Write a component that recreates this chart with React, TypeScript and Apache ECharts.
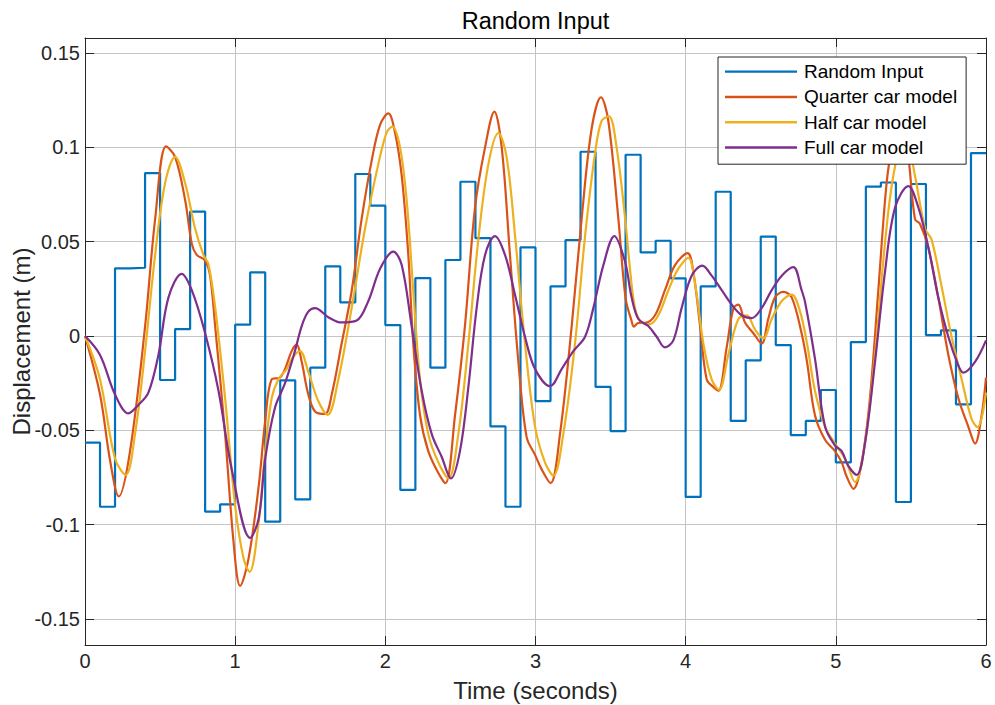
import React, { useEffect, useRef } from 'react';
import * as echarts from 'echarts';

const FONT = '"Liberation Sans", Arial, Helvetica, sans-serif';

const titleText = 'Random Input';
const xAxisName = 'Time (seconds)';
const yAxisName = 'Displacement (m)';
const seriesNames = ['Random Input', 'Quarter car model', 'Half car model', 'Full car model'];
const seriesColors = ['#0072BD', '#D95319', '#EDB120', '#7E2F8E'];

const yTicks = [-0.15, -0.1, -0.05, 0, 0.05, 0.1, 0.15];
const yTickLabels = ['-0.15', '-0.1', '-0.05', '0', '0.05', '0.1', '0.15'];
const yMin = -0.1638;
const yMax = 0.158;

// Random input: zero-order hold, one value every 0.1 s (last value repeated at t = 6)
const inputTimes = [
  0, 0.1, 0.2, 0.3, 0.4, 0.5, 0.6, 0.7, 0.8, 0.9,
  1.0, 1.1, 1.2, 1.3, 1.4, 1.5, 1.6, 1.7, 1.8, 1.9,
  2.0, 2.1, 2.2, 2.3, 2.4, 2.5, 2.6, 2.7, 2.8, 2.9,
  3.0, 3.1, 3.2, 3.3, 3.4, 3.5, 3.6, 3.7, 3.8, 3.9,
  4.0, 4.1, 4.2, 4.3, 4.4, 4.5, 4.6, 4.7, 4.8, 4.9,
  5.0, 5.1, 5.2, 5.3, 5.4, 5.5, 5.6, 5.7, 5.8, 5.9, 6.0,
];
const inputValues = [
  -0.0565, -0.0905, 0.0359, 0.0362, 0.0864, -0.0233, 0.0037, 0.066, -0.0931, -0.0892,
  0.006, 0.0337, -0.0984, -0.0235, -0.0866, -0.0168, 0.0369, 0.0178, 0.0859, 0.0691,
  0.0058, -0.0816, 0.0307, -0.0168, 0.0403, 0.0818, 0.0519, -0.0479, -0.0905, 0.047,
  -0.0345, 0.0263, 0.0509, 0.0977, -0.027, -0.0504, 0.0961, 0.0443, 0.0505, 0.0306,
  -0.0853, 0.0263, 0.0765, -0.045, -0.0129, 0.0527, -0.0048, -0.0525, -0.045, -0.0286,
  -0.067, -0.0032, 0.0792, 0.0814, -0.088, 0.0806, 0.0005, 0.003, -0.0362, 0.097, 0.097,
];

const quarterTimes = [
  0, 0.1, 0.167, 0.225, 0.3, 0.4, 0.467, 0.54, 0.6, 0.667, 0.711, 0.744, 0.8, 0.833, 0.867,
  0.933, 0.989, 1.033, 1.089, 1.156, 1.2, 1.243, 1.298, 1.332, 1.376, 1.41, 1.443, 1.487,
  1.532, 1.598, 1.643, 1.709, 1.776, 1.842, 1.909, 1.965, 2.02, 2.064, 2.109, 2.153, 2.186,
  2.231, 2.286, 2.353, 2.4, 2.464, 2.53, 2.597, 2.664, 2.726, 2.775, 2.83, 2.886, 2.941,
  2.997, 3.041, 3.1, 3.163, 3.241, 3.307, 3.374, 3.436, 3.485, 3.552, 3.6, 3.64, 3.655,
  3.685, 3.729, 3.796, 3.862, 3.929, 4.013, 4.051, 4.096, 4.14, 4.184, 4.218, 4.273, 4.318,
  4.351, 4.395, 4.451, 4.506, 4.55, 4.595, 4.65, 4.706, 4.772, 4.808, 4.861, 4.928, 4.994,
  5.039, 5.072, 5.117, 5.172, 5.227, 5.283, 5.338, 5.376, 5.44, 5.483, 5.527, 5.56, 5.616,
  5.682, 5.749, 5.816, 5.882, 5.927, 5.971, 6.0,
];
const quarterValues = [
  0, -0.031, -0.066, -0.085, -0.061, 0.005, 0.062, 0.1005, 0.095, 0.072, 0.049, 0.043, 0.04, 0.032, 0.005,
  -0.052, -0.109, -0.1325, -0.118, -0.08, -0.045, -0.023, -0.022, -0.0175, -0.008, -0.0046, -0.0137, -0.031,
  -0.04, -0.0413, -0.031, -0.004, 0.024, 0.062, 0.093, 0.112, 0.118, 0.108, 0.085, 0.043, -0.004,
  -0.042, -0.061, -0.0726, -0.078, -0.042, 0.0053, 0.068, 0.1, 0.119, 0.1, 0.043, -0.0137, -0.0536,
  -0.063, -0.0707, -0.078, -0.052, 0.0053, 0.062, 0.11, 0.1266, 0.114, 0.062, 0.02, 0.008, 0.005,
  0.007, 0.007, 0.011, 0.0243, 0.0376, 0.044, 0.034, 0.0053, -0.023, -0.027, -0.029, -0.006, 0.0148,
  0.0167, 0.0072, 0.0015, -0.004, 0.009, 0.0205, 0.0234, 0.0205, 0.0015, -0.0137, -0.042, -0.055, -0.061,
  -0.067, -0.0745, -0.081, -0.067, -0.033, 0.0243, 0.081, 0.1, 0.114, 0.095, 0.062, 0.0595, 0.0468,
  0.0205, -0.0099, -0.033, -0.048, -0.057, -0.042, -0.022,
];

const halfTimes = [
  0, 0.1, 0.2, 0.271, 0.333, 0.4, 0.467, 0.533, 0.6, 0.667, 0.733, 0.789, 0.822, 0.867, 0.933,
  1.0, 1.056, 1.096, 1.156, 1.2, 1.243, 1.287, 1.343, 1.387, 1.432, 1.487, 1.554, 1.616, 1.687,
  1.776, 1.865, 1.953, 2.009, 2.047, 2.098, 2.142, 2.186, 2.231, 2.286, 2.353, 2.42, 2.486,
  2.553, 2.619, 2.686, 2.753, 2.808, 2.864, 2.93, 2.997, 3.063, 3.119, 3.185, 3.263, 3.33,
  3.396, 3.44, 3.489, 3.54, 3.6, 3.63, 3.663, 3.707, 3.762, 3.818, 3.885, 3.951, 4.018, 4.062,
  4.118, 4.173, 4.222, 4.284, 4.351, 4.406, 4.462, 4.517, 4.573, 4.64, 4.706, 4.762, 4.808,
  4.861, 4.928, 4.994, 5.061, 5.128, 5.194, 5.261, 5.327, 5.383, 5.46, 5.527, 5.594, 5.638,
  5.705, 5.771, 5.838, 5.904, 5.944, 6.0,
];
const halfValues = [
  0, -0.023, -0.065, -0.0736, -0.052, -0.008, 0.043, 0.081, 0.095, 0.081, 0.057, 0.043, 0.038, 0.015, -0.033,
  -0.09, -0.118, -0.125, -0.099, -0.061, -0.033, -0.023, -0.0175, -0.011, -0.008, -0.019, -0.0346, -0.0418, -0.023,
  0.015, 0.057, 0.091, 0.108, 0.111, 0.1, 0.072, 0.024, -0.023, -0.052, -0.067, -0.0755, -0.052,
  -0.004, 0.051, 0.091, 0.1076, 0.0947, 0.053, -0.004, -0.048, -0.067, -0.074, -0.052, -0.004, 0.053,
  0.0966, 0.114, 0.1165, 0.1, 0.06, 0.035, 0.0148, 0.0072, 0.0063, 0.011, 0.0243, 0.0357, 0.0414, 0.028,
  -0.004, -0.023, -0.0285, -0.01, 0.009, 0.011, 0.0034, -0.0013, 0.009, 0.0186, 0.022, 0.0129, -0.004,
  -0.029, -0.048, -0.057, -0.065, -0.0774, -0.057, -0.0099, 0.049, 0.085, 0.108, 0.085, 0.057, 0.051,
  0.026, -0.0004, -0.023, -0.044, -0.0483, -0.03,
];

const fullTimes = [
  0, 0.1, 0.2, 0.289, 0.356, 0.422, 0.489, 0.556, 0.644, 0.711, 0.8, 0.889, 0.978, 1.1, 1.156,
  1.2, 1.265, 1.332, 1.398, 1.443, 1.487, 1.532, 1.62, 1.709, 1.809, 1.887, 1.965, 2.053, 2.109,
  2.175, 2.242, 2.309, 2.375, 2.437, 2.497, 2.553, 2.608, 2.664, 2.73, 2.797, 2.863, 2.93, 2.997,
  3.097, 3.174, 3.252, 3.33, 3.385, 3.452, 3.525, 3.596, 3.64, 3.685, 3.751, 3.807, 3.862, 3.918,
  3.973, 4.04, 4.111, 4.173, 4.24, 4.306, 4.373, 4.44, 4.506, 4.573, 4.64, 4.717, 4.772, 4.795,
  4.861, 4.928, 4.994, 5.039, 5.083, 5.139, 5.194, 5.261, 5.327, 5.394, 5.483, 5.55, 5.616, 5.682,
  5.749, 5.816, 5.849, 5.927, 6.0,
];
const fullValues = [
  0, -0.01, -0.031, -0.041, -0.0365, -0.03, -0.01, 0.0205, 0.033, 0.0243, 0.0015, -0.029, -0.071, -0.107, -0.097,
  -0.065, -0.038, -0.025, -0.008, 0.0053, 0.0129, 0.0148, 0.01, 0.0072, 0.0082, 0.0186, 0.0357, 0.0447, 0.0376,
  0.0053, -0.029, -0.052, -0.064, -0.0755, -0.061, -0.027, 0.0148, 0.043, 0.053, 0.043, 0.022, -0.0004, -0.0175,
  -0.0266, -0.0175, -0.008, -0.0004, 0.0148, 0.0376, 0.053, 0.0395, 0.0205, 0.009, 0.0053, -0.0004, -0.006, -0.0023,
  0.0148, 0.032, 0.0373, 0.032, 0.0243, 0.0167, 0.011, 0.0095, 0.0148, 0.0243, 0.032, 0.0365, 0.0243, 0.018,
  -0.012, -0.048, -0.058, -0.061, -0.0688, -0.0736, -0.057, -0.0137, 0.0338, 0.068, 0.0795, 0.068, 0.0471, 0.0205,
  -0.0004, -0.0156, -0.0194, -0.0137, -0.0023,
];

const zip = (ts: number[], vs: number[]) => ts.map((t, i) => [t, vs[i]]);

export default function App() {
  const ref = useRef<HTMLDivElement | null>(null);

  useEffect(() => {
    if (!ref.current) return;
    const chart = echarts.init(ref.current, null, { renderer: 'svg' });

    const axisColor = '#262626';
    const gridColor = '#c4c4c4';

    const smoothSeries = (idx: number, ts: number[], vs: number[]) => ({
      name: seriesNames[idx],
      type: 'line',
      data: zip(ts, vs),
      smooth: 0.35,
      showSymbol: false,
      symbol: 'none',
      lineStyle: { color: seriesColors[idx], width: 2.2 },
      itemStyle: { color: seriesColors[idx] },
      z: 3 + idx,
    });

    chart.setOption({
      animation: false,
      backgroundColor: '#ffffff',
      textStyle: { fontFamily: FONT },
      grid: { left: 85, top: 38, right: 9, bottom: 60, containLabel: false, outerBoundsMode: 'none' },
      graphic: [
        {
          type: 'text',
          x: 535.5,
          y: 20.5,
          style: {
            text: titleText,
            fill: '#000000',
            fontSize: 23.5,
            fontFamily: FONT,
            textAlign: 'center',
            textVerticalAlign: 'middle',
          },
          z: 10,
        },
      ],
      legend: {
        orient: 'vertical',
        left: 718,
        top: 57,
        data: seriesNames,
        icon: 'rect',
        itemWidth: 72,
        itemHeight: 2.4,
        itemGap: 0,
        padding: [2, 9, 4, 7],
        backgroundColor: '#ffffff',
        borderColor: axisColor,
        borderWidth: 1,
        borderRadius: 0,
        textStyle: { fontSize: 19, color: '#000000', fontFamily: FONT, lineHeight: 25.3, padding: [0, 0, 0, 2] },
        z: 20,
      },
      xAxis: [
        {
          type: 'value',
          position: 'bottom',
          min: 0,
          max: 6,
          interval: 1,
          name: xAxisName,
          nameLocation: 'middle',
          nameGap: 33,
          nameMoveOverlap: false,
          nameTextStyle: { fontSize: 24, color: axisColor, fontFamily: FONT },
          axisLine: { show: true, onZero: false, lineStyle: { color: axisColor, width: 1 } },
          axisTick: { show: true, inside: true, length: 9, lineStyle: { color: axisColor } },
          axisLabel: { fontSize: 20, color: axisColor, margin: 6, fontFamily: FONT },
          splitLine: { show: true, lineStyle: { color: gridColor, width: 1 } },
        },
        {
          type: 'value',
          position: 'top',
          min: 0,
          max: 6,
          interval: 1,
          axisLine: { show: true, onZero: false, lineStyle: { color: axisColor, width: 1 } },
          axisTick: { show: true, inside: true, length: 9, lineStyle: { color: axisColor } },
          axisLabel: { show: false },
          splitLine: { show: false },
        },
      ],
      yAxis: [
        {
          type: 'value',
          position: 'left',
          min: yMin,
          max: yMax,
          name: yAxisName,
          nameLocation: 'middle',
          nameGap: 52,
          nameMoveOverlap: false,
          nameTextStyle: { fontSize: 24, color: axisColor, fontFamily: FONT },
          axisLine: { show: true, onZero: false, lineStyle: { color: axisColor, width: 1 } },
          axisTick: { show: true, inside: true, length: 9, customValues: yTicks, lineStyle: { color: axisColor } },
          axisLabel: {
            customValues: yTicks,
            fontSize: 20,
            color: axisColor,
            margin: 5,
            fontFamily: FONT,
            formatter: (v: number) => {
              const i = yTicks.findIndex((t) => Math.abs(t - v) < 1e-6);
              return i >= 0 ? yTickLabels[i] : '';
            },
          },
          splitLine: { show: true, lineStyle: { color: gridColor, width: 1 } },
        },
        {
          type: 'value',
          position: 'right',
          min: yMin,
          max: yMax,
          axisLine: { show: true, onZero: false, lineStyle: { color: axisColor, width: 1 } },
          axisTick: { show: true, inside: true, length: 9, customValues: yTicks, lineStyle: { color: axisColor } },
          axisLabel: { show: false },
          splitLine: { show: false },
        },
      ],
      series: [
        {
          name: seriesNames[0],
          type: 'line',
          step: 'end',
          data: zip(inputTimes, inputValues),
          showSymbol: false,
          symbol: 'none',
          lineStyle: { color: seriesColors[0], width: 2.2 },
          itemStyle: { color: seriesColors[0] },
          z: 2,
        },
        smoothSeries(1, quarterTimes, quarterValues),
        smoothSeries(2, halfTimes, halfValues),
        smoothSeries(3, fullTimes, fullValues),
      ],
    });

    return () => chart.dispose();
  }, []);

  return (
    <div
      ref={ref}
      style={{ position: 'absolute', left: 0, top: 0, width: 995, height: 705, background: '#fff' }}
    />
  );
}
